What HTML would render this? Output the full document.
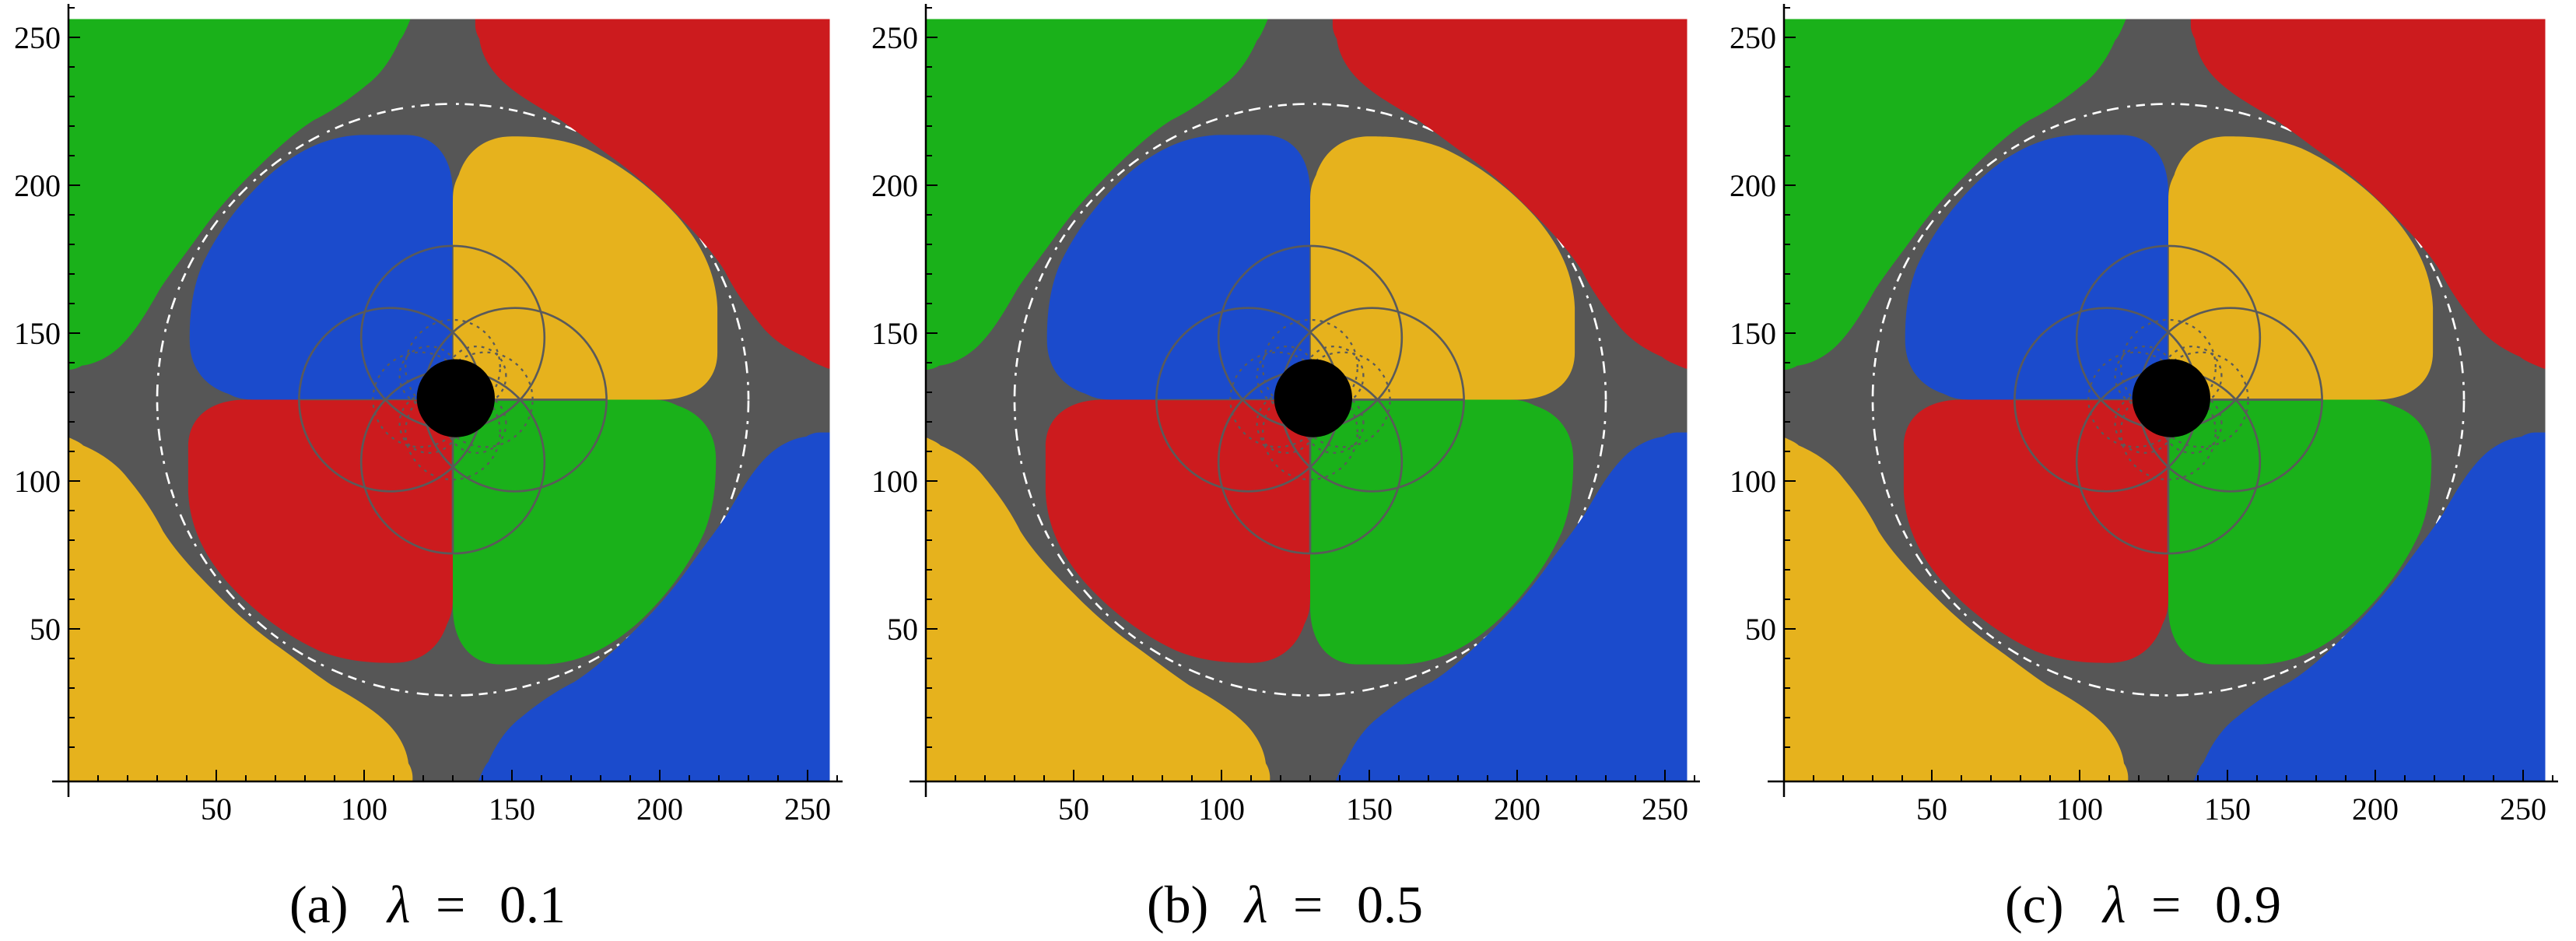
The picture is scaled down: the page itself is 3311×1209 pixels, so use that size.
<!DOCTYPE html>
<html><head><meta charset="utf-8"><style>
html,body{margin:0;padding:0;background:#fff;}
svg{display:block;}
text{font-family:"Liberation Serif",serif;fill:#000;}
</style></head><body>
<svg width="3311" height="1209" viewBox="0 0 3311 1209" xmlns="http://www.w3.org/2000/svg">
<defs>
<clipPath id="cp"><rect x="0" y="-1.6" width="257.5" height="257.8"/></clipPath>
<path id="petal" d="M0,0 L0,70 C0,82 -6,89.5 -16,89.5 L-31,89.5 C-45,89 -55,82 -62,76 C-72,67 -80,56 -85,45 C-89,35 -89,25 -89,20 C-89,12 -85,5 -76,2 C-72,0 -70,0 -65,0 Z"/>
<path id="corner" d="M-150,150 L-11,150 L-11,130 C-13,125 -14,123 -15,122 C-18,115 -22,110 -26,107 C-32,102 -38,98 -44,95 C-52,90 -60,82 -66,76 C-73,69 -78,63 -83,56 C-88,49 -92,44 -96,38 C-100,31 -104,24 -109,19 C-113,15 -118,12.5 -122.5,12 C-124,11 -126,10.6 -127,10.6 L-150,10.6 Z"/>
<g id="plot">
 <g transform="translate(88,998) scale(3.8,-3.8)">
  <g clip-path="url(#cp)">
   <rect x="0" y="-1.6" width="257.5" height="257.8" fill="#565656"/>
   <circle cx="130" cy="127.5" r="100" fill="none" stroke="#fff" stroke-width="0.7" stroke-dasharray="3 2 1 3 4 2"/>
   <g transform="translate(127,127)">
    <use href="#corner" fill="#1ab11a"/>
    <use href="#corner" fill="#cc1b1e" transform="rotate(-90)"/>
    <use href="#corner" fill="#1b4bcc" transform="rotate(180)"/>
    <use href="#corner" fill="#e6b21d" transform="rotate(90)"/>
   </g>
   <g transform="translate(130,127.5)">
    <use href="#petal" fill="#1b4bcc"/>
    <use href="#petal" fill="#e6b21d" transform="rotate(-90)"/>
    <use href="#petal" fill="#1ab11a" transform="rotate(180)"/>
    <use href="#petal" fill="#cc1b1e" transform="rotate(90)"/>
    <g fill="none" stroke="#5a5a5a" stroke-width="0.7">
     <circle cx="0" cy="21" r="31"/>
     <circle cx="0" cy="-21" r="31"/>
     <circle cx="21" cy="0" r="31"/>
     <circle cx="-21" cy="0" r="31"/>
     <line x1="0" y1="0" x2="52" y2="0"/>
     <line x1="0" y1="0" x2="-52" y2="0" stroke-width="0.4"/>
     <line x1="0" y1="0" x2="0" y2="-52"/>
     <line x1="0" y1="0" x2="0" y2="52" stroke-width="0.4"/>
    </g>
    <g fill="none" stroke="#5a5a5a" stroke-width="0.6" stroke-dasharray="1 1.6">
     <circle cx="0" cy="11" r="16"/>
     <circle cx="0" cy="-11" r="16"/>
     <circle cx="11" cy="0" r="16"/>
     <circle cx="-11" cy="0" r="16"/>
     <circle cx="8" cy="8" r="10"/>
     <circle cx="-8" cy="-8" r="10"/>
     <circle cx="8" cy="-8" r="10"/>
     <circle cx="-8" cy="8" r="10"/>
    </g>
   </g>
   <circle cx="131" cy="128" r="13.2" fill="#000"/>
  </g>
 </g>
 <g stroke="#000" stroke-width="2.5">
  <line x1="88" y1="5" x2="88" y2="1024"/>
  <line x1="67" y1="1004" x2="1083" y2="1004"/>
 </g>
 <g stroke="#000" stroke-width="2">
  <path d="M126,1004v-8M164,1004v-8M202,1004v-8M240,1004v-8M278,1004v-15M316,1004v-8M354,1004v-8M392,1004v-8M430,1004v-8M468,1004v-15M506,1004v-8M544,1004v-8M582,1004v-8M620,1004v-8M658,1004v-15M696,1004v-8M734,1004v-8M772,1004v-8M810,1004v-8M848,1004v-15M886,1004v-8M924,1004v-8M962,1004v-8M1000,1004v-8M1038,1004v-15M1076,1004v-8"/>
  <path d="M88,960h8M88,922h8M88,884h8M88,846h8M88,808h15M88,770h8M88,732h8M88,694h8M88,656h8M88,618h15M88,580h8M88,542h8M88,504h8M88,466h8M88,428h15M88,390h8M88,352h8M88,314h8M88,276h8M88,238h15M88,200h8M88,162h8M88,124h8M88,86h8M88,48h15M88,10h8"/>
 </g>
 <g font-size="40" text-anchor="middle">
  <text x="278" y="1053">50</text><text x="468" y="1053">100</text><text x="658" y="1053">150</text><text x="848" y="1053">200</text><text x="1038" y="1053">250</text>
 </g>
 <g font-size="40" text-anchor="end">
  <text x="78" y="822">50</text><text x="78" y="632">100</text><text x="78" y="442">150</text><text x="78" y="252">200</text><text x="78" y="62">250</text>
 </g>
 <g font-size="68">
  <text x="372" y="1185">(a)</text>
  <text x="498" y="1185" font-style="italic">λ</text>
  <text x="560" y="1185">=</text>
  <text x="642" y="1185">0.1</text>
 </g>
</g>
</defs>
<use href="#plot"/>
<g transform="translate(1102,0)">
 <use href="#plot"/>
</g>
<g transform="translate(2205,0)">
 <use href="#plot"/>
</g>
<!-- cover the caption text for b and c, then rewrite -->
<rect x="1440" y="1100" width="480" height="109" fill="#fff"/>
<rect x="2540" y="1100" width="480" height="109" fill="#fff"/>
<g font-size="68">
 <text x="1474" y="1185">(b)</text>
 <text x="1600" y="1185" font-style="italic">λ</text>
 <text x="1662" y="1185">=</text>
 <text x="1744" y="1185">0.5</text>
 <text x="2577" y="1185">(c)</text>
 <text x="2703" y="1185" font-style="italic">λ</text>
 <text x="2765" y="1185">=</text>
 <text x="2847" y="1185">0.9</text>
</g>
</svg>
</body></html>
